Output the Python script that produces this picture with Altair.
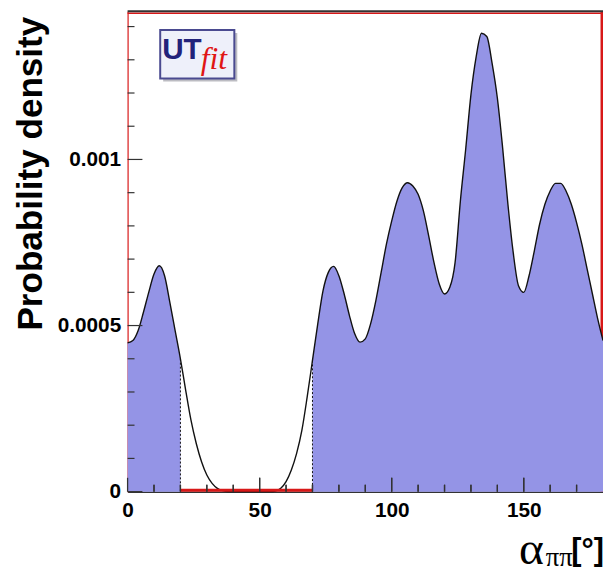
import altair as alt
import pandas as pd

# ---- data ----
ALPHA = list(range(0, 181, 2))
DENSITY_E4 = [
    4.48, 4.55, 4.85, 5.40, 6.00, 6.55, 6.80, 6.50, 5.70, 4.85,
    4.00, 3.05, 2.15, 1.45, 0.90, 0.50, 0.25, 0.10, 0.03, 0.00,
    0.00, 0.00, 0.00, 0.00, 0.00, 0.00, 0.00, 0.00, 0.02, 0.10,
    0.30, 0.65, 1.15, 1.85, 2.85, 3.95, 5.05, 6.05, 6.60, 6.78,
    6.50, 5.95, 5.30, 4.75, 4.50, 4.60, 5.05, 5.75, 6.60, 7.45,
    8.15, 8.75, 9.15, 9.30, 9.20, 8.95, 8.45, 7.70, 6.90, 6.25,
    5.95, 6.15, 6.90, 8.75, 10.30, 11.95, 13.10, 13.80, 13.70, 12.90,
    11.85, 10.35, 8.65, 7.20, 6.20, 6.00, 6.50, 7.25, 8.05, 8.65,
    9.05, 9.28, 9.28, 9.05, 8.65, 8.10, 7.45, 6.70, 5.95, 5.20,
    4.55,
]
CUT_LOW = 20
CUT_HIGH = 70
X_MAJOR = [0, 50, 100, 150]
X_MINOR = [10, 20, 30, 40, 60, 70, 80, 90, 110, 120, 130, 140, 160, 170]
Y_MAJOR = [0.0, 0.0005, 0.001]
Y_MINOR = [0.0001, 0.0002, 0.0003, 0.0004, 0.0006, 0.0007, 0.0008, 0.0009,
           0.0011, 0.0012, 0.0013, 0.0014]
Y_TITLE = "Probability density"

W, H = 481, 486
X_DOMAIN = [0, 180]
Y_DOMAIN = [0, 0.001446]
FILL = "#9494e6"
RED = "#d81818"
DARK = "#333333"

df = pd.DataFrame({"alpha": ALPHA, "p": [v * 1e-4 for v in DENSITY_E4]})
df["seg"] = ["low" if a <= CUT_LOW else ("high" if a >= CUT_HIGH else "none") for a in ALPHA]
df_low = df[df["seg"] == "low"]
df_high = df[df["seg"] == "high"]
df_cuts = df[df["alpha"].isin([CUT_LOW, CUT_HIGH])]
df_excl = pd.DataFrame({"a": [CUT_LOW], "b": [CUT_HIGH]})

# x tick table (thin rectangles, half a line width either side of each tick)
half = 0.65 * (X_DOMAIN[1] - X_DOMAIN[0]) / W
ticks_all = X_MAJOR + X_MINOR
df_xt = pd.DataFrame({
    "a": [t - half for t in ticks_all],
    "b": [t + half for t in ticks_all],
    "major": [True] * len(X_MAJOR) + [False] * len(X_MINOR),
})
px_to_y = Y_DOMAIN[1] / H

xs = alt.Scale(domain=X_DOMAIN, nice=False, zero=False)
ys = alt.Scale(domain=Y_DOMAIN, nice=False)

x_axis = alt.Axis(values=X_MAJOR, ticks=False, grid=False, domainColor=DARK,
                  domainWidth=1.5, labelFont="Liberation Sans", labelFontWeight="bold",
                  labelFontSize=21, labelColor="black", labelPadding=8,
                  labelFlush=False, title=None)
y_axis = alt.Axis(values=Y_MAJOR, format=".4~f", ticks=False, grid=False,
                  domainColor=RED, domainWidth=1.2, labelFont="Liberation Sans",
                  labelFontWeight="bold", labelFontSize=21, labelColor="black",
                  labelPadding=7, title=Y_TITLE, titleFont="Liberation Sans",
                  titleFontWeight="bold", titleFontSize=35.5, titleColor="black",
                  titleAngle=270, titleAlign="right", titleBaseline="alphabetic",
                  titleX=-87, titleY=5)

one = pd.DataFrame({"k": [0]})

# frame pieces (behind the fill)
right_red = alt.Chart(one).mark_rule(color=RED, strokeWidth=3).encode(
    x=alt.value(W - 1), y=alt.value(0), y2=alt.value(H))
top_red = alt.Chart(one).mark_rule(color=RED, strokeWidth=1.5).encode(
    x=alt.value(0), x2=alt.value(W), y=alt.value(2))


def fill_layer(d):
    return alt.Chart(d).mark_area(color=FILL, interpolate="monotone", opacity=1).encode(
        x=alt.X("alpha:Q", scale=xs, axis=x_axis),
        y=alt.Y("p:Q", scale=ys, axis=y_axis, stack=None),
    )


area_low = fill_layer(df_low)
area_high = fill_layer(df_high)

line = alt.Chart(df).mark_line(color="#111111", strokeWidth=1.4, interpolate="monotone").encode(
    x=alt.X("alpha:Q", scale=xs, axis=x_axis),
    y=alt.Y("p:Q", scale=ys, axis=y_axis),
)

cuts = alt.Chart(df_cuts).mark_rule(color="#111111", strokeWidth=1, strokeDash=[2, 2]).encode(
    x=alt.X("alpha:Q", scale=xs, axis=x_axis),
    y=alt.Y("p:Q", scale=ys, axis=y_axis),
    y2=alt.datum(0))

excl = alt.Chart(df_excl).mark_rule(color=RED, strokeWidth=3).encode(
    x=alt.X("a:Q", scale=xs, axis=x_axis), x2="b:Q", y=alt.value(H - 1.5))

top_dark = alt.Chart(one).mark_rule(color=DARK, strokeWidth=2).encode(
    x=alt.value(0), x2=alt.value(W), y=alt.value(0))

# x ticks, inside the frame: thin rects from the tick table
xmaj_rect = alt.Chart(df_xt[df_xt["major"]]).mark_rect(color=DARK).encode(
    x=alt.X("a:Q", scale=xs, axis=x_axis), x2="b:Q",
    y=alt.value(H - 14), y2=alt.value(H))
xmin_rect = alt.Chart(df_xt[~df_xt["major"]]).mark_rect(color=DARK).encode(
    x=alt.X("a:Q", scale=xs, axis=x_axis), x2="b:Q",
    y=alt.value(H - 7), y2=alt.value(H))

# backup: the same ticks derived from the curve table (multiples of 10 degrees)
xtick_rule = alt.Chart(df).transform_filter(
    "datum.alpha % 10 == 0 && datum.alpha > 0 && datum.alpha < 180"
).transform_calculate(
    t0="0",
    t1=f"(datum.alpha % 50 == 0 ? 14 : 7) * {px_to_y}",
).mark_rule(color=DARK, strokeWidth=1.3).encode(
    x=alt.X("alpha:Q", scale=xs, axis=x_axis),
    y=alt.Y("t0:Q", scale=ys, axis=y_axis),
    y2="t1:Q",
)

ymaj = alt.Chart(pd.DataFrame({"p": Y_MAJOR})).mark_rule(color=DARK, strokeWidth=1.2).encode(
    y=alt.Y("p:Q", scale=ys, axis=y_axis), x=alt.value(0), x2=alt.value(15))
ymin = alt.Chart(pd.DataFrame({"p": Y_MINOR})).mark_rule(color=DARK, strokeWidth=1.2).encode(
    y=alt.Y("p:Q", scale=ys, axis=y_axis), x=alt.value(0), x2=alt.value(7))

# x-axis title built from pieces (alpha with pi-pi subscript, then [deg])
t_alpha = alt.Chart(one).mark_text(text="α", font="Liberation Serif", fontSize=48,
                                   align="left", baseline="alphabetic", color="black").encode(
    x=alt.value(396), y=alt.value(559))
t_pipi = alt.Chart(one).mark_text(text="ππ", font="Liberation Serif", fontSize=27,
                                  align="left", baseline="alphabetic", color="black").encode(
    x=alt.value(423), y=alt.value(561))
t_unit = alt.Chart(one).mark_text(text="[°]", font="Liberation Sans", fontWeight="bold",
                                  fontSize=31, align="left", baseline="alphabetic",
                                  color="black").encode(
    x=alt.value(449), y=alt.value(555))

# UTfit logo
logo_shadow = alt.Chart(one).mark_rect(fill="#a0a0a8", opacity=0.7).encode(
    x=alt.value(36), x2=alt.value(111), y=alt.value(22), y2=alt.value(71))
logo_box = alt.Chart(one).mark_rect(fill="#eef0fa", stroke="#4a4a90", strokeWidth=2).encode(
    x=alt.value(33), x2=alt.value(108), y=alt.value(19), y2=alt.value(68))
logo_ut = alt.Chart(one).mark_text(text="UT", font="Liberation Sans",
                                   fontWeight="bold", fontSize=30, align="left",
                                   baseline="alphabetic", color="#22227a").encode(
    x=alt.value(35), y=alt.value(48))
logo_fit = alt.Chart(one).mark_text(text="fit", font="Liberation Serif", fontStyle="italic",
                                    fontSize=32, align="left", baseline="alphabetic",
                                    color="#e01515").encode(
    x=alt.value(74), y=alt.value(58))

chart = alt.layer(
    right_red, top_red, area_low, area_high, line, cuts, excl, top_dark,
    xmaj_rect, xmin_rect, xtick_rule, ymaj, ymin,
    t_alpha, t_pipi, t_unit,
    logo_shadow, logo_box, logo_ut, logo_fit,
).properties(
    width=W, height=H,
    autosize=alt.AutoSizeParams(type="none"),
    padding={"left": 121, "top": 0, "right": 0, "bottom": 80},
    background="white",
).configure_view(stroke=None)

chart.save("out.html", embed_options={"renderer": "svg", "actions": False})
